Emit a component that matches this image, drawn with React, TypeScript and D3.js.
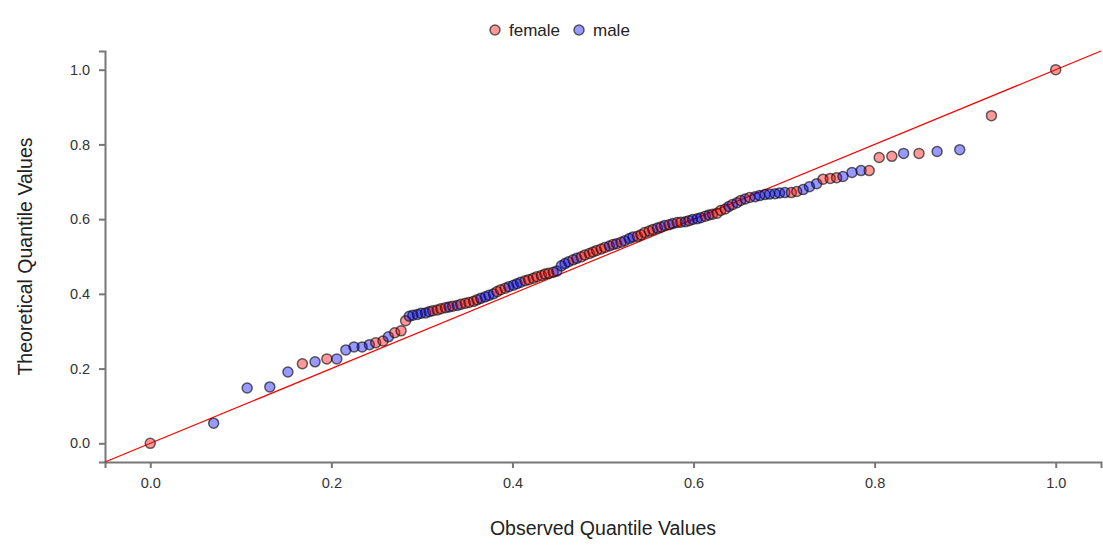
import React, { useEffect, useRef } from 'react';
import * as d3 from 'd3';

type Point = [number, number];

// observed quantile, theoretical quantile
const femalePoints: Point[] = [
  [0.0, 0.0], [0.168, 0.213], [0.195, 0.226], [0.249, 0.269], [0.257, 0.274],
  [0.27, 0.296], [0.277, 0.301], [0.282, 0.328],
  [0.312, 0.355], [0.317, 0.357], [0.321, 0.36], [0.326, 0.363], [0.334, 0.367],
  [0.343, 0.372], [0.348, 0.375], [0.352, 0.377], [0.357, 0.38], [0.361, 0.384],
  [0.383, 0.406], [0.387, 0.411], [0.392, 0.415],
  [0.414, 0.435], [0.418, 0.438], [0.423, 0.442], [0.427, 0.446], [0.432, 0.449],
  [0.436, 0.453], [0.44, 0.455], [0.445, 0.458],
  [0.467, 0.491], [0.476, 0.499], [0.48, 0.504], [0.485, 0.508], [0.489, 0.512],
  [0.493, 0.516], [0.498, 0.52], [0.502, 0.524], [0.511, 0.532], [0.52, 0.538],
  [0.538, 0.554], [0.542, 0.558], [0.546, 0.564], [0.551, 0.568], [0.555, 0.572],
  [0.564, 0.579], [0.573, 0.585], [0.582, 0.591], [0.586, 0.592], [0.595, 0.596],
  [0.613, 0.608], [0.621, 0.613], [0.626, 0.616], [0.63, 0.623], [0.635, 0.627],
  [0.643, 0.639], [0.652, 0.65], [0.662, 0.658], [0.708, 0.671], [0.714, 0.674],
  [0.743, 0.707], [0.751, 0.709], [0.758, 0.711], [0.794, 0.73], [0.805, 0.765],
  [0.819, 0.768], [0.849, 0.776], [0.929, 0.877], [1.0, 1.0],
];

const malePoints: Point[] = [
  [0.07, 0.054], [0.107, 0.148], [0.132, 0.151], [0.152, 0.191], [0.182, 0.218],
  [0.206, 0.226], [0.216, 0.25], [0.225, 0.258], [0.234, 0.258], [0.242, 0.264],
  [0.263, 0.285],
  [0.286, 0.34], [0.29, 0.343], [0.295, 0.345], [0.299, 0.348], [0.304, 0.349],
  [0.308, 0.352], [0.33, 0.365], [0.339, 0.369],
  [0.365, 0.388], [0.37, 0.392], [0.374, 0.396], [0.379, 0.4],
  [0.396, 0.419], [0.401, 0.423], [0.405, 0.427], [0.409, 0.431],
  [0.449, 0.461], [0.454, 0.475], [0.458, 0.481], [0.462, 0.486], [0.471, 0.495],
  [0.507, 0.528], [0.515, 0.534], [0.524, 0.542], [0.529, 0.548], [0.533, 0.552],
  [0.56, 0.576], [0.568, 0.583], [0.577, 0.588], [0.591, 0.593], [0.599, 0.599],
  [0.604, 0.601], [0.608, 0.604], [0.617, 0.611], [0.639, 0.634], [0.648, 0.644],
  [0.657, 0.654], [0.668, 0.66], [0.673, 0.663], [0.679, 0.666], [0.684, 0.667],
  [0.69, 0.668], [0.695, 0.67], [0.701, 0.671], [0.721, 0.679], [0.728, 0.687],
  [0.736, 0.695], [0.765, 0.714], [0.775, 0.725], [0.785, 0.73], [0.832, 0.776],
  [0.869, 0.781], [0.894, 0.786],
];

const xTicks = [0, 0.2, 0.4, 0.6, 0.8, 1.0];
const yTicks = [0, 0.2, 0.4, 0.6, 0.8, 1.0];
const groups = ['female', 'male'];
const groupColors = ['red', 'blue'];

const width = 1103;
const height = 556;
const margin = { top: 51, right: 2, bottom: 94, left: 105 };

const App: React.FC = () => {
  const ref = useRef<SVGSVGElement>(null);

  useEffect(() => {
    const svg = d3.select(ref.current);
    svg.selectAll('*').remove();

    const x = d3.scaleLinear().domain([-0.05, 1.05]).range([margin.left, width - margin.right]);
    const y = d3.scaleLinear().domain([-0.05, 1.05]).range([height - margin.bottom, margin.top]);
    const color = d3.scaleOrdinal<string, string>().domain(groups).range(groupColors);

    const font = 'Arial, "Liberation Sans", sans-serif';

    const xAxis = svg.append('g')
      .attr('transform', `translate(0,${height - margin.bottom})`)
      .call(d3.axisBottom(x).tickValues(xTicks).tickFormat(d3.format('.1f')).tickSizeInner(6).tickSizeOuter(6));
    const yAxis = svg.append('g')
      .attr('transform', `translate(${margin.left},0)`)
      .call(d3.axisLeft(y).tickValues(yTicks).tickFormat(d3.format('.1f')).tickSizeInner(6).tickSizeOuter(6));

    [xAxis, yAxis].forEach((g) => {
      g.select('.domain').attr('stroke', '#777').attr('stroke-width', 2);
      g.selectAll('.tick line').attr('stroke', '#777').attr('stroke-width', 2);
      g.selectAll('.tick text').attr('fill', '#333').attr('font-size', 14.5).attr('font-family', font);
    });
    xAxis.selectAll('.tick text').attr('dy', '1.2em');
    yAxis.selectAll('.tick text').attr('dx', '-0.4em');

    // reference line y = x
    svg.append('line')
      .attr('x1', x(-0.05)).attr('y1', y(-0.05))
      .attr('x2', x(1.05)).attr('y2', y(1.05))
      .attr('stroke', 'red').attr('stroke-width', 1.2);

    const series = [
      { name: 'female', points: femalePoints },
      { name: 'male', points: malePoints },
    ];
    const all = series.flatMap((s) => s.points.map((p) => ({ name: s.name, p })))
      .sort((a, b) => a.p[0] - b.p[0]);

    svg.append('g').selectAll('circle')
      .data(all)
      .enter()
      .append('circle')
      .attr('cx', (d) => x(d.p[0]))
      .attr('cy', (d) => y(d.p[1]))
      .attr('r', 5)
      .attr('fill', (d) => color(d.name))
      .attr('fill-opacity', 0.4)
      .attr('stroke', '#111')
      .attr('stroke-opacity', 0.65)
      .attr('stroke-width', 1.5);

    // legend
    const legend = svg.append('g').attr('transform', 'translate(495,30)');
    const item = legend.selectAll('g')
      .data(groups)
      .enter()
      .append('g')
      .attr('transform', (_d, i) => `translate(${i * 84},0)`);
    item.append('circle')
      .attr('r', 5)
      .attr('fill', (d) => color(d))
      .attr('fill-opacity', 0.4)
      .attr('stroke', '#111')
      .attr('stroke-opacity', 0.65)
      .attr('stroke-width', 1.5);
    item.append('text')
      .attr('x', 14)
      .attr('y', 6)
      .attr('font-size', 17)
      .attr('font-family', font)
      .attr('fill', '#222')
      .text((d) => d);

    // axis titles
    svg.append('text')
      .attr('x', (margin.left + width - margin.right) / 2)
      .attr('y', 535)
      .attr('text-anchor', 'middle')
      .attr('font-size', 19.5)
      .attr('font-family', font)
      .attr('fill', '#222')
      .text('Observed Quantile Values');
    svg.append('text')
      .attr('transform', `translate(32,${(margin.top + height - margin.bottom) / 2}) rotate(-90)`)
      .attr('text-anchor', 'middle')
      .attr('font-size', 19.5)
      .attr('font-family', font)
      .attr('fill', '#222')
      .text('Theoretical Quantile Values');
  }, []);

  return (
    <svg
      ref={ref}
      width={width}
      height={height}
      style={{ position: 'absolute', left: 0, top: 0, background: '#fff' }}
    />
  );
};

export default App;
